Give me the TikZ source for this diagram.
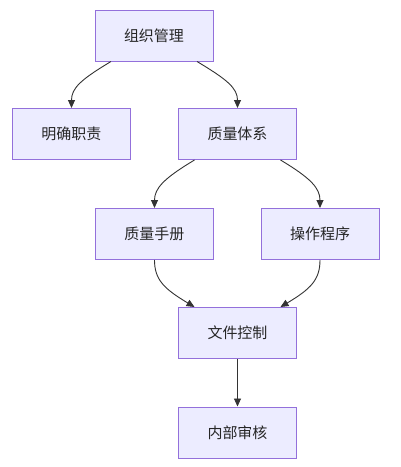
\documentclass[tikz,border=0pt]{standalone}
\usepackage{fontspec}
\setmainfont{Noto Sans CJK SC}
\usepackage{xcolor}
\usetikzlibrary{arrows.meta}

\definecolor{boxfill}{HTML}{ECECFF}
\definecolor{boxline}{HTML}{9370DB}
\definecolor{edgeline}{HTML}{333333}

\begin{document}
\begin{tikzpicture}[x=1pt, y=-1pt,
    box/.style = {rectangle, draw=boxline, fill=boxfill, line width=1pt,
        minimum width = 118pt, minimum height = 51pt, inner sep = 0pt,
        font=\fontsize{15}{18}\selectfont, text=black!85},
    link/.style = {draw=edgeline, line width=0.9pt,
        -{Triangle[length=8pt,width=7pt]}}]

\useasboundingbox (0,0) rectangle (401,467);

% Top level
\node[box] (org) at (154,35.5) {组织管理};

% Second level
\node[box] (duty) at (71.5,134) {明确职责};
\node[box] (qs) at (237.5,134) {质量体系};

% Third level
\node[box] (manual) at (154.5,234) {质量手册};
\node[box] (proc) at (320,234) {操作程序};

% Bottom
\node[box] (doc) at (237.5,333) {文件控制};
\node[box] (audit) at (237.5,432.5) {内部审核};

% Connectors
\draw[link] ([xshift=-43pt]org.south) .. controls +(-30,18) and +(0,-20) .. (duty.north);
\draw[link] ([xshift=43pt]org.south) .. controls +(30,18) and +(0,-20) .. (qs.north);
\draw[link] ([xshift=-43pt]qs.south) .. controls +(-30,18) and +(0,-20) .. (manual.north);
\draw[link] ([xshift=43pt]qs.south) .. controls +(30,18) and +(0,-20) .. (proc.north);
\draw[link] (manual.south) .. controls +(0,20) and +(-30,-18) .. ([xshift=-43pt]doc.north);
\draw[link] (proc.south) .. controls +(0,20) and +(30,-18) .. ([xshift=43pt]doc.north);
\draw[link] (doc.south) -- (audit.north);
\end{tikzpicture}
\end{document}
